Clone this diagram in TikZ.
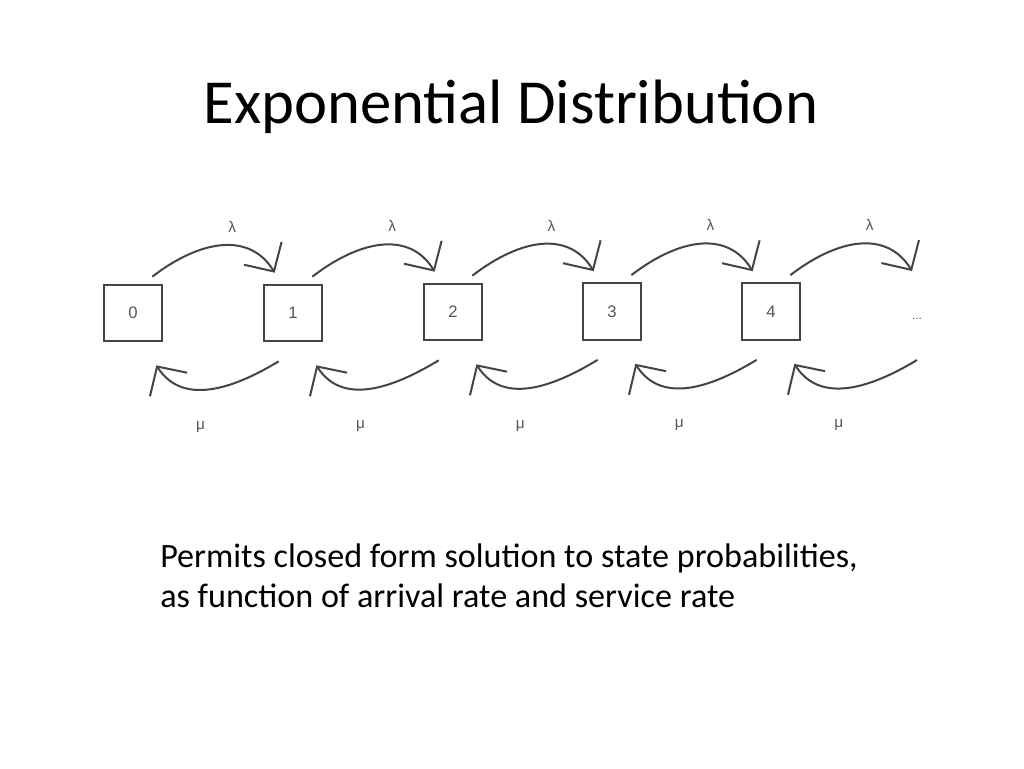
\documentclass[tikz,border=0pt]{standalone}
\usepackage{fontspec}
\setmainfont{Carlito}
\newfontfamily\diagfont{Liberation Sans}
\usetikzlibrary{arrows.meta}
\begin{document}
\begin{tikzpicture}[x=0.75pt,y=-0.75pt,
  queuebox/.style={draw=linegray, line width=1.5pt, minimum width=44pt, minimum height=42.5pt, inner sep=0, outer sep=0, text=labgray, font=\diagfont\fontsize{12.5}{12.5}\selectfont},
  ratearc/.style={draw=linegray, line width=1.5pt, -{Straight Barb[length=16pt, width=33pt]}},
  ratelabel/.style={inner sep=0, text=labgray, font=\diagfont\fontsize{11.5}{11.5}\selectfont}]
\definecolor{linegray}{RGB}{68,68,68}
\definecolor{labgray}{RGB}{85,85,85}
\useasboundingbox (0,0) rectangle (1024,768);
% title and text
\node[inner sep=0, anchor=base] (title) at (511,123) {\fontsize{47}{47}\selectfont Exponential Distribution};
\node[inner sep=0, anchor=base west] (body1) at (160,567) {\fontsize{25.6}{25.6}\selectfont Permits closed form solution to state probabilities,};
\node[inner sep=0, anchor=base west] (body2) at (160,607) {\fontsize{25.6}{25.6}\selectfont as function of arrival rate and service rate};
% states
\node[queuebox] (s0) at (133,313) {0};
\node[queuebox] (s1) at (293,313) {1};
\node[queuebox] (s2) at (453,312) {2};
\node[queuebox] (s3) at (612,311.5) {3};
\node[queuebox] (s4) at (771,311.5) {4};
\node[ratelabel, font=\diagfont\fontsize{9}{9}\selectfont] (more) at (917,319) {...};
\coordinate (s5nw) at (901,283);
\coordinate (s5sw) at (901,340);
% arrivals
\draw[ratearc] ([shift={(-10,-8)}]s0.north east) .. controls +(48,-37) and +(-25,-41) .. node[ratelabel, above=9pt, pos=.58] (lam0) {λ} ([shift={(11,-12)}]s1.north west);
\draw[ratearc] ([shift={(-10,-8)}]s1.north east) .. controls +(48,-37) and +(-25,-41) .. node[ratelabel, above=9pt, pos=.58] (lam1) {λ} ([shift={(11,-12)}]s2.north west);
\draw[ratearc] ([shift={(-10,-8)}]s2.north east) .. controls +(48,-37) and +(-25,-41) .. node[ratelabel, above=9pt, pos=.58] (lam2) {λ} ([shift={(11,-12)}]s3.north west);
\draw[ratearc] ([shift={(-10,-8)}]s3.north east) .. controls +(48,-37) and +(-25,-41) .. node[ratelabel, above=9pt, pos=.58] (lam3) {λ} ([shift={(11,-12)}]s4.north west);
\draw[ratearc] ([shift={(-10,-8)}]s4.north east) .. controls +(48,-37) and +(-25,-41) .. node[ratelabel, above=9pt, pos=.58] (lam4) {λ} ([shift={(11,-12)}]s5nw);
% services
\draw[ratearc] ([shift={(15,20)}]s1.south west) .. controls +(-38,23) and +(28,44) .. node[ratelabel, below=23pt, pos=.6] (mu0) {μ} ([shift={(-6,24)}]s0.south east);
\draw[ratearc] ([shift={(15,20)}]s2.south west) .. controls +(-38,23) and +(28,44) .. node[ratelabel, below=23pt, pos=.6] (mu1) {μ} ([shift={(-6,24)}]s1.south east);
\draw[ratearc] ([shift={(15,20)}]s3.south west) .. controls +(-38,23) and +(28,44) .. node[ratelabel, below=23pt, pos=.6] (mu2) {μ} ([shift={(-6,24)}]s2.south east);
\draw[ratearc] ([shift={(15,20)}]s4.south west) .. controls +(-38,23) and +(28,44) .. node[ratelabel, below=23pt, pos=.6] (mu3) {μ} ([shift={(-6,24)}]s3.south east);
\draw[ratearc] ([shift={(16,20)}]s5sw) .. controls +(-38,23) and +(28,44) .. node[ratelabel, below=23pt, pos=.6] (mu4) {μ} ([shift={(-6,24)}]s4.south east);
\end{tikzpicture}
\end{document}
